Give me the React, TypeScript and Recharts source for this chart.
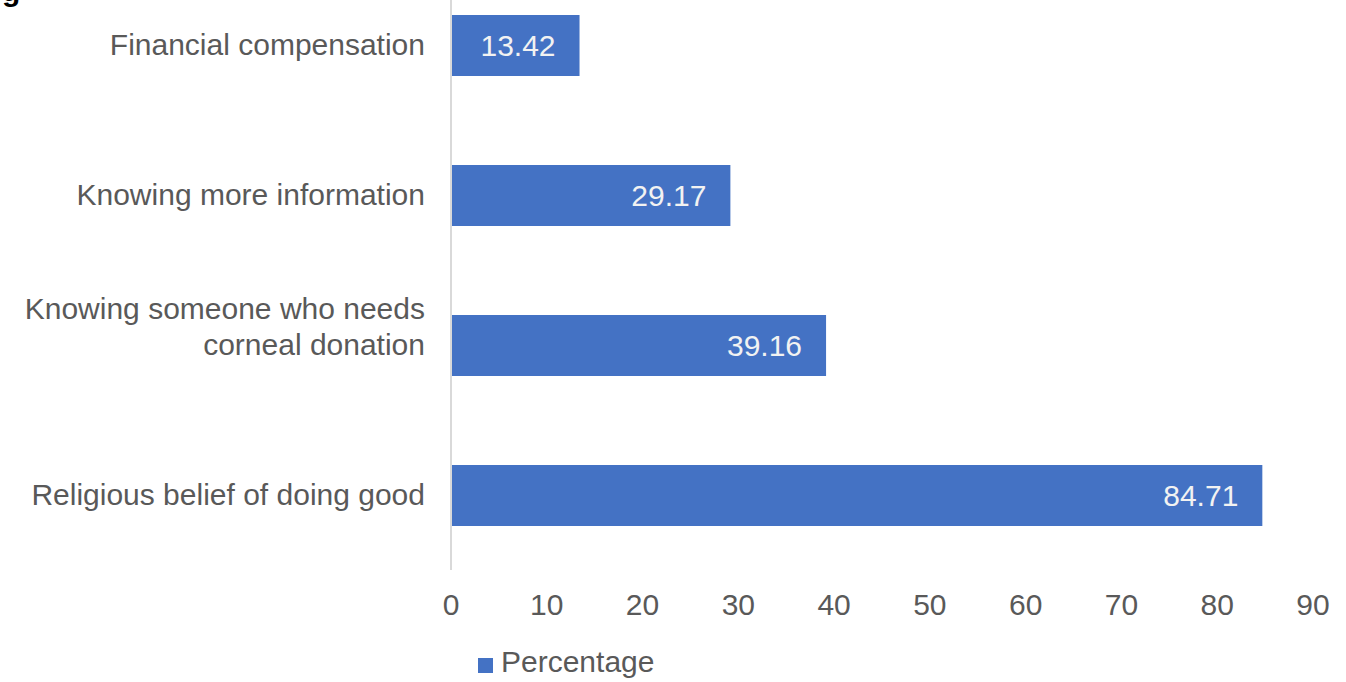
import { BarChart, Bar, XAxis, YAxis, LabelList, Legend } from 'recharts';

const categories = [
  'Financial compensation',
  'Knowing more information',
  'Knowing someone who needs\ncorneal donation',
  'Religious belief of doing good',
];
const percentages = [13.42, 29.17, 39.16, 84.71];
const xTicks = [0, 10, 20, 30, 40, 50, 60, 70, 80, 90];

const BLUE = '#4472c4';
const GREY = '#595959';
const FONT = '"Liberation Sans", Arial, sans-serif';

const data = categories.map((name, i) => ({ name, value: percentages[i] }));

function CategoryTick(props: any) {
  const { x, y, payload } = props;
  const lines = String(payload.value).split('\n');
  const lineH = 36;
  return (
    <text x={x} y={y} textAnchor="end" fill={GREY} fontSize={30} fontFamily={FONT}>
      {lines.map((line, i) => (
        <tspan key={i} x={x} y={y - (lines.length - 1 - i) * lineH - 1} dy="0.355em">
          {line}
        </tspan>
      ))}
    </text>
  );
}

function LegendContent() {
  return (
    <div style={{ display: 'flex', alignItems: 'flex-end', fontFamily: FONT, fontSize: 30, color: GREY, lineHeight: '30px' }}>
      <span style={{ display: 'inline-block', width: 15, height: 15, background: BLUE, marginRight: 8, marginBottom: 4 }} />
      <span>Percentage</span>
    </div>
  );
}

export default function App() {
  return (
    <div style={{ position: 'absolute', left: 0, top: 0, width: 1346, height: 682, background: '#fff', overflow: 'hidden' }}>
      <span
        style={{ position: 'absolute', left: 2, top: -24, fontFamily: FONT, fontWeight: 'bold', fontSize: 30, lineHeight: '30px', color: '#000' }}
      >
        g
      </span>
      <BarChart
        width={1346}
        height={682}
        data={data}
        layout="vertical"
        margin={{ top: -30, right: 33, bottom: 42, left: 0 }}
        barSize={61}
      >
        <XAxis
          type="number"
          domain={[0, 90]}
          ticks={xTicks}
          axisLine={false}
          tickLine={false}
          tickSize={0}
          tickMargin={24}
          height={40}
          interval={0}
          tick={{ fill: GREY, fontSize: 30, fontFamily: FONT }}
        />
        <YAxis
          type="category"
          dataKey="name"
          width={451}
          axisLine={{ stroke: '#d9d9d9', strokeWidth: 2 }}
          tickLine={false}
          tickSize={0}
          tickMargin={26}
          interval={0}
          tick={<CategoryTick />}
        />
        <Legend content={<LegendContent />} wrapperStyle={{ left: 478, top: 647, width: 'auto' }} />
        <Bar dataKey="value" name="Percentage" fill={BLUE} isAnimationActive={false}>
          <LabelList dataKey="value" position="insideRight" offset={24} fill="#f2f2f2" fontSize={30} fontFamily={FONT} />
        </Bar>
      </BarChart>
    </div>
  );
}
